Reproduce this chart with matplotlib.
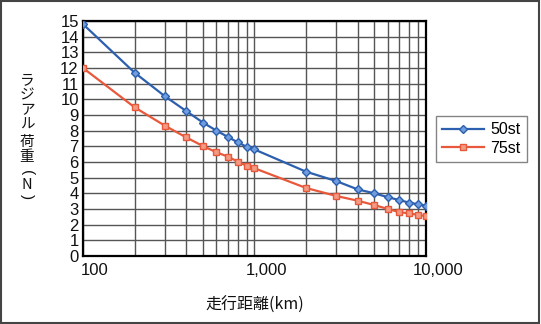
import matplotlib
matplotlib.use("Agg")
import matplotlib.pyplot as plt
import matplotlib.ticker as mticker
import matplotlib.transforms as mtransforms
from matplotlib.patches import Rectangle

plt.rcParams['font.family'] = ['Liberation Sans', 'Noto Sans CJK JP', 'DejaVu Sans']

# 走行距離 (km)
distance = [100, 200, 300, 400, 500, 600, 700, 800, 900, 1000,
            2000, 3000, 4000, 5000, 6000, 7000, 8000, 9000, 10000]
load_50st = [14.8, 11.7, 10.2, 9.25, 8.52, 8.0, 7.6, 7.25, 6.97, 6.8,
             5.38, 4.78, 4.25, 4.0, 3.75, 3.57, 3.4, 3.3, 3.21]
load_75st = [12.0, 9.49, 8.32, 7.57, 7.02, 6.62, 6.34, 6.02, 5.76, 5.6,
             4.34, 3.83, 3.53, 3.25, 3.0, 2.8, 2.72, 2.62, 2.55]
series_names = ['50st', '75st']
y_ticks = list(range(0, 16))
x_ticks = [100, 1000, 10000]
x_ticklabels = ['100', '1,000', '10,000']
ylabel_chars = ['ラ', 'ジ', 'ア', 'ル', '荷', '重', '(', 'N', ')']

fig = plt.figure(figsize=(5.41, 3.24), dpi=100)
ax = fig.add_axes([0.1534, 0.2099, 0.6340, 0.7253])

blue = '#2c5fad'
red = '#e8583a'
ax.plot(distance, load_50st, color=blue, lw=1.6, marker='D', ms=4.5,
        mfc='#6f9ddf', mec=blue, mew=1.0, label=series_names[0], zorder=4)
ax.plot(distance, load_75st, color=red, lw=1.6, marker='s', ms=5,
        mfc='#f39a84', mec=red, mew=1.0, label=series_names[1], zorder=3)

ax.set_xscale('log')
ax.set_xlim(100, 10000)
ax.set_ylim(0, 15)
ax.set_yticks(y_ticks)
ax.set_xticks(x_ticks)
ax.set_xticklabels(x_ticklabels)
ax.xaxis.set_minor_locator(mticker.LogLocator(base=10, subs=range(2, 10)))
ax.xaxis.set_minor_formatter(mticker.NullFormatter())

ax.grid(True, which='both', axis='x', color='#555555', lw=1.0, zorder=1)
ax.grid(True, which='major', axis='y', color='#555555', lw=1.0, zorder=1)
ax.set_axisbelow(True)
for s in ax.spines.values():
    s.set_color('black')
    s.set_linewidth(1.6)

ax.tick_params(axis='both', which='both', length=0, labelsize=12, colors='#111111')
ax.tick_params(axis='y', pad=3)
ax.tick_params(axis='x', pad=5)
offset = mtransforms.ScaledTranslation(12 / 100, 0, fig.dpi_scale_trans)
for lbl in ax.get_xticklabels():
    lbl.set_transform(lbl.get_transform() + offset)

# vertical y label, one character per line (parentheses turned for vertical writing)
char_y = [80, 95, 110, 125, 142, 157, 173, 185, 197]
for ch, py in zip(ylabel_chars, char_y):
    if ch in '()':
        fig.text(27 / 541, 1 - py / 324, ch, ha='center', va='center', rotation=-90,
                 rotation_mode='anchor', fontsize=11, color='#111111')
    else:
        fig.text(27 / 541, 1 - py / 324, ch, ha='center', va='center',
                 fontsize=10.5, color='#111111',
                 family=['Noto Sans CJK JP', 'DejaVu Sans'])
fig.text(255 / 541, 1 - 305 / 324, '走行距離(km)', ha='center', va='center',
         fontsize=11.5, color='#111111', family=['Noto Sans CJK JP', 'DejaVu Sans'])

leg = fig.legend(loc='upper left', bbox_to_anchor=(436 / 541, 1 - 116 / 324),
                 fontsize=11.5, frameon=True, fancybox=False, handlelength=2.6,
                 borderpad=0.4, labelspacing=0.2, handletextpad=0.4,
                 borderaxespad=0)
leg.get_frame().set_edgecolor('#666666')
leg.get_frame().set_linewidth(1.0)

fig.patches.append(Rectangle((0.002, 0.003), 0.995, 0.994, transform=fig.transFigure,
                             fill=False, edgecolor='#444444', lw=1.5))

fig.savefig('out.png', dpi=100)
